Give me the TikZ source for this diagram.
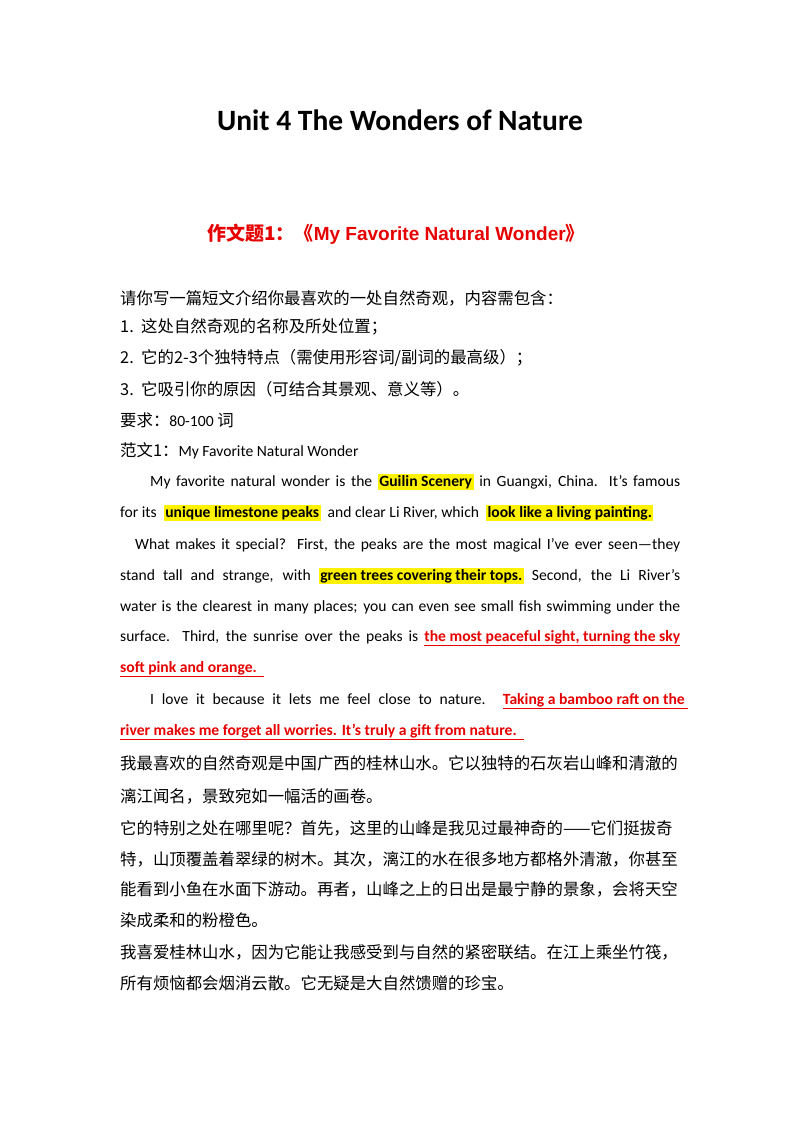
\documentclass[tikz,border=0pt]{standalone}
\usepackage{fontspec}
\setmainfont{Carlito}
\newfontfamily\cjk{Noto Sans CJK SC}
\newfontfamily\arialf{Liberation Sans}
\definecolor{hlred}{RGB}{230,0,0}
\newcommand{\hl}[1]{{\setlength{\fboxsep}{1.5pt}\colorbox{yellow}{\textbf{#1}}}}
\newcommand{\rl}[1]{\textcolor{hlred}{\textbf{\underline{#1}}}}
\tikzset{ln/.style={anchor=west,inner sep=0pt,font=\fontsize{15.6}{17}\selectfont},
 cn/.style={anchor=west,inner sep=0pt,font=\cjk\fontsize{16.4}{18}\selectfont}}
\begin{document}
\begin{tikzpicture}[x=1pt,y=-1pt]
\useasboundingbox (0,0) rectangle (800,1132);
\node[font=\bfseries\fontsize{29.5}{32}\selectfont] (title) at (400,120) {Unit 4 The Wonders of Nature};
\node[font=\fontsize{19}{22}\selectfont,text=hlred] (sub) at (396,234) {{\cjk\bfseries 作文题1：《}{\arialf\bfseries My Favorite Natural Wonder}{\cjk\bfseries 》}};
\node[cn] (a1) at (120,298) {请你写一篇短文介绍你最喜欢的一处自然奇观，内容需包含：};
\node[cn] (a2) at (120,327) {1.\ \ 这处自然奇观的名称及所处位置；};
\node[cn] (a3) at (120,358) {2.\ \ 它的2-3个独特特点（需使用形容词/副词的最高级）；};
\node[cn] (a4) at (120,389) {3.\ \ 它吸引你的原因（可结合其景观、意义等）。};
\node[cn] (a5) at (120,420) {要求：{\fontsize{15.6}{17}\selectfont\rmfamily 80-100} 词};
\node[cn] (a6) at (120,451) {范文1：{\fontsize{15.6}{17}\selectfont\rmfamily My Favorite Natural Wonder}};
\node[ln] (e1) at (150,482) {\makebox[530pt][s]{My favorite natural wonder is the \hl{Guilin Scenery} in Guangxi, China. It's famous}};
\node[ln] (e2) at (120,513) {for its \ \hl{unique limestone peaks} \ and clear Li River, which \ \hl{look like a living painting.}};
\node[ln] (e3) at (135,545) {\makebox[545pt][s]{What makes it special? First, the peaks are the most magical I've ever seen---they}};
\node[ln] (e4) at (120,576) {\makebox[560pt][s]{stand tall and strange, with \hl{green trees covering their tops.} Second, the Li River's}};
\node[ln] (e5) at (120,607) {\makebox[560pt][s]{water is the clearest in many places; you can even see small fish swimming under the}};
\node[ln] (e6) at (120,638) {\makebox[560pt][s]{surface. Third, the sunrise over the peaks is \rl{the most peaceful sight, turning the sky}}};
\node[ln] (e7) at (120,669) {\rl{soft pink and orange.\ \ }};
\node[ln] (e8) at (150,701) {\makebox[538pt][s]{I love it because it lets me feel close to nature. \rl{Taking a bamboo raft on the\ }}};
\node[ln] (e9) at (120,732) {\rl{river makes me forget all worries. It's truly a gift from nature.\ \ }};
\node[cn] (c1) at (120,763) {我最喜欢的自然奇观是中国广西的桂林山水。它以独特的石灰岩山峰和清澈的};
\node[cn] (c2) at (120,796) {漓江闻名，景致宛如一幅活的画卷。};
\node[cn] (c3) at (120,828) {它的特别之处在哪里呢？首先，这里的山峰是我见过最神奇的——它们挺拔奇};
\node[cn] (c4) at (120,859) {特，山顶覆盖着翠绿的树木。其次，漓江的水在很多地方都格外清澈，你甚至};
\node[cn] (c5) at (120,889) {能看到小鱼在水面下游动。再者，山峰之上的日出是最宁静的景象，会将天空};
\node[cn] (c6) at (120,920) {染成柔和的粉橙色。};
\node[cn] (c7) at (120,952) {我喜爱桂林山水，因为它能让我感受到与自然的紧密联结。在江上乘坐竹筏，};
\node[cn] (c8) at (120,983) {所有烦恼都会烟消云散。它无疑是大自然馈赠的珍宝。};
\end{tikzpicture}
\end{document}
